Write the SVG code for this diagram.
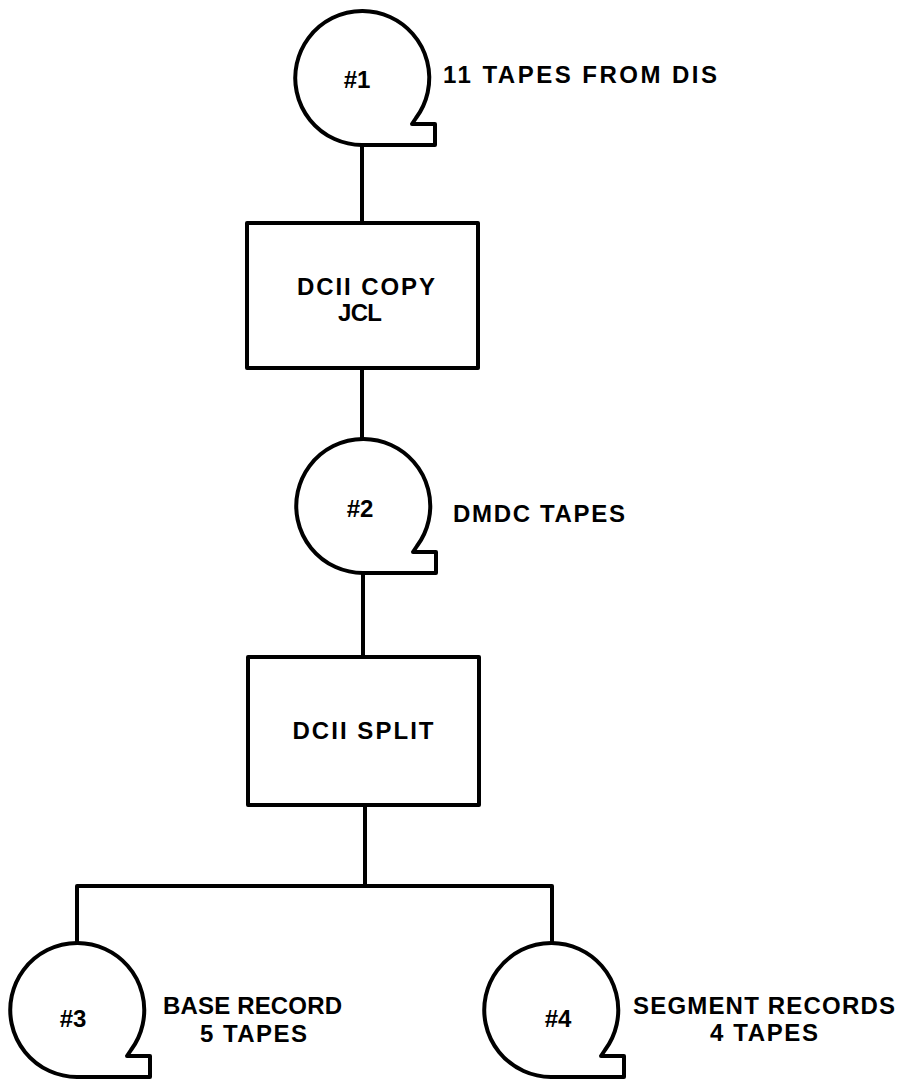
<svg xmlns="http://www.w3.org/2000/svg" width="904" height="1082" viewBox="0 0 904 1082">
<style>
.ln{fill:none;stroke:#000;stroke-width:4;stroke-linejoin:round;stroke-linecap:round}
.bx{fill:#fff;stroke:#000;stroke-width:4;stroke-linejoin:round}
.tp{fill:#fff;stroke:#000;stroke-width:4;stroke-linejoin:round}
text{font-family:"Liberation Sans",Arial,sans-serif;font-weight:bold;font-size:24px;fill:#000;dominant-baseline:central}
.c{text-anchor:middle}
</style>
<defs>
<path id="tape" d="M54,40 A67,67 0 1 0 0,67 L73,67 L73,46 L50,46 Z"/>
</defs>
<rect width="904" height="1082" fill="#fff"/>
<g id="connectors">
<path class="ln" d="M362,145 L362,223"/>
<path class="ln" d="M362,368 L362,438"/>
<path class="ln" d="M363,573 L363,657"/>
<path class="ln" d="M365,805 L365,886"/>
<path class="ln" d="M77,943 L77,886 L552,886 L552,943"/>
</g>
<g id="tape1">
<use href="#tape" class="tp" transform="translate(362,78)"/>
<text class="c" x="357" y="79">#1</text>
<text x="443" y="74" textLength="274" lengthAdjust="spacing">11 TAPES FROM DIS</text>
</g>
<g id="copy">
<rect class="bx" x="247" y="223" width="231" height="145"/>
<text class="c" x="366" y="286" textLength="138" lengthAdjust="spacing">DCII COPY</text>
<text class="c" x="360" y="312" textLength="44" lengthAdjust="spacing">JCL</text>
</g>
<g id="tape2">
<use href="#tape" class="tp" transform="translate(363,506)"/>
<text class="c" x="360" y="508">#2</text>
<text x="453" y="513" textLength="172" lengthAdjust="spacing">DMDC TAPES</text>
</g>
<g id="split">
<rect class="bx" x="248" y="657" width="231" height="148"/>
<text class="c" x="363" y="730" textLength="141" lengthAdjust="spacing">DCII SPLIT</text>
</g>
<g id="tape3">
<use href="#tape" class="tp" transform="translate(77,1010)"/>
<text class="c" x="73" y="1018">#3</text>
<text x="163" y="1005" textLength="179" lengthAdjust="spacing">BASE RECORD</text>
<text x="200" y="1033" textLength="107" lengthAdjust="spacing">5 TAPES</text>
</g>
<g id="tape4">
<use href="#tape" class="tp" transform="translate(551,1010)"/>
<text class="c" x="558" y="1018">#4</text>
<text x="633" y="1005" textLength="262" lengthAdjust="spacing">SEGMENT RECORDS</text>
<text x="710" y="1032" textLength="108" lengthAdjust="spacing">4 TAPES</text>
</g>
</svg>
